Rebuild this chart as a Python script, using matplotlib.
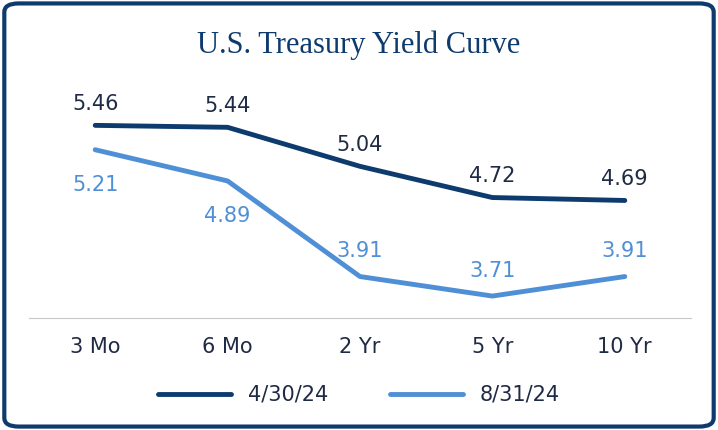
import matplotlib
matplotlib.use("Agg")
import matplotlib.pyplot as plt
from matplotlib.patches import FancyBboxPatch

categories = ["3 Mo", "6 Mo", "2 Yr", "5 Yr", "10 Yr"]
apr = [5.46, 5.44, 5.04, 4.72, 4.69]
aug = [5.21, 4.89, 3.91, 3.71, 3.91]
series_names = ["4/30/24", "8/31/24"]

dark = "#0d3b6e"
light = "#4f8fd6"
text_c = "#1f2a44"

fig = plt.figure(figsize=(7.18, 4.30), dpi=100)
fig.patches.append(FancyBboxPatch((0.006, 0.008), 0.988, 0.984, boxstyle="round,pad=0,rounding_size=0.02",
                                  transform=fig.transFigure, fill=False, edgecolor=dark, linewidth=3))
ax = fig.add_axes([29/718, 1-318/430, (691-29)/718, 218/430])
x = range(len(categories))
ax.plot(x, apr, color=dark, lw=3.5, solid_capstyle="round", label=series_names[0])
ax.plot(x, aug, color=light, lw=3.5, solid_capstyle="round", label=series_names[1])
ax.set_xlim(-0.5, 4.5)
ax.set_ylim(3.485, 5.72)
for i, v in enumerate(apr):
    ax.annotate(f"{v:.2f}", (i, v), xytext=(0, 8), textcoords="offset points", ha="center",
                va="bottom", fontsize=15, color=text_c)
offs = [-18, -18, 11, 11, 11]
for i, v in enumerate(aug):
    ax.annotate(f"{v:.2f}", (i, v), xytext=(0, offs[i]), textcoords="offset points", ha="center",
                va="top" if offs[i] < 0 else "bottom", fontsize=15, color=light)
for s in ["top", "right", "left"]:
    ax.spines[s].set_visible(False)
ax.spines["bottom"].set_color("#c8c8c8")
ax.set_yticks([])
ax.set_xticks(list(x))
ax.set_xticklabels(categories, fontsize=15, color=text_c)
ax.tick_params(axis="x", length=0, pad=14)
fig.text(0.5, 0.895, "U.S. Treasury Yield Curve", ha="center", va="center", fontsize=22,
         family="Liberation Serif", color=dark)
fig.legend(loc="center", bbox_to_anchor=(0.5, 1-395/430), ncol=2, frameon=False, fontsize=15,
           handlelength=3.5, columnspacing=3, labelcolor=text_c)
fig.savefig("out.png", dpi=100)
